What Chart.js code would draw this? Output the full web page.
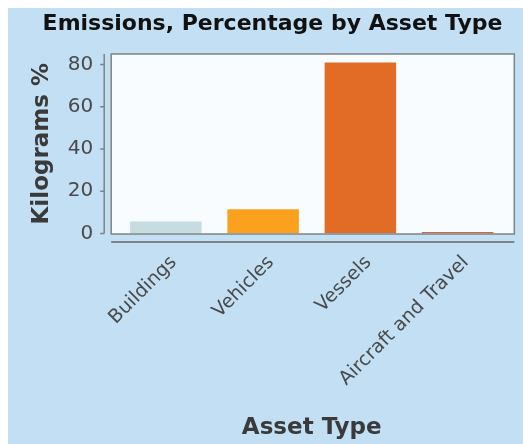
<!DOCTYPE html>
<html><head><meta charset="utf-8">
<script src="https://cdn.jsdelivr.net/npm/chart.js@4.4.1/dist/chart.umd.min.js"></script>
<style>
html,body{margin:0;padding:0;background:#fff;overflow:hidden;}
#wrap{position:absolute;left:8px;top:8px;width:515px;height:436px;background:#C2DFF3;}
</style></head>
<body><div id="wrap"><canvas id="c" width="515" height="436"></canvas></div>
<script>
const categories = ["Buildings", "Vehicles", "Vessels", "Aircraft and Travel"];
const values = [5.7, 11.5, 81.0, 0.7];
const barColors = ["#C5DCE0", "#FBA11E", "#E26C26", "#CF674C"];
const yTicks = [0, 20, 40, 60, 80];
const yMax = 85;

const frame = {
  id: 'frame',
  beforeDatasetsDraw(chart) {
    const {ctx, chartArea: a} = chart;
    ctx.save();
    ctx.fillStyle = '#F8FCFF';
    ctx.fillRect(a.left - 6, a.top, a.right - a.left + 14, a.bottom - a.top + 0.5);
    ctx.restore();
  },
  afterDatasetsDraw(chart) {
    const {ctx, chartArea: a, scales} = chart;
    ctx.save();
    ctx.strokeStyle = '#7F8384';
    ctx.lineWidth = 1.5;
    ctx.strokeRect(a.left - 6, a.top, a.right - a.left + 14, a.bottom - a.top + 0.5);
    const ys = scales.y;
    const ax = a.left - 13;
    ctx.beginPath();
    ctx.moveTo(ax, ys.getPixelForValue(yMax));
    ctx.lineTo(ax, ys.getPixelForValue(0));
    yTicks.forEach(v => { const p = ys.getPixelForValue(v); ctx.moveTo(ax - 4, p); ctx.lineTo(ax, p); });
    ctx.stroke();
    ctx.beginPath();
    ctx.lineWidth = 2;
    const by = a.bottom + 8.5;
    ctx.moveTo(a.left - 6, by);
    ctx.lineTo(a.right + 8, by);
    ctx.stroke();
    ctx.restore();
  }
};

new Chart(document.getElementById('c'), {
  type: 'bar',
  data: {
    labels: categories,
    datasets: [{ data: values, backgroundColor: barColors, borderWidth: 0, barPercentage: 0.735, categoryPercentage: 1 }]
  },
  options: {
    responsive: false,
    animation: false,
    layout: { padding: { left: 30.7, right: 16.7, top: 0, bottom: 0 } },
    plugins: {
      legend: { display: false },
      tooltip: { enabled: false },
      title: {
        display: true,
        text: 'Emissions, Percentage by Asset Type',
        color: '#111',
        font: { family: 'DejaVu Sans', size: 22, weight: 'bold', lineHeight: 1.2 },
        padding: { top: 2.8, bottom: 16.8 }
      }
    },
    scales: {
      x: {
        type: 'category',
        offset: true,
        grid: { display: false, drawTicks: false },
        border: { display: false },
        ticks: { color: '#4A4A4A', font: { family: 'DejaVu Sans', size: 19 }, minRotation: 45, maxRotation: 45, padding: 18, labelOffset: 8, autoSkip: false },
        title: { display: true, text: 'Asset Type', color: '#3A3A3A', font: { family: 'DejaVu Sans', size: 23, weight: 'bold', lineHeight: 1.2 }, padding: { top: 0, bottom: 2.2 } },
        afterFit(s) { s.height = 210.5; }
      },
      y: {
        min: 0, max: yMax,
        grid: { display: false, drawTicks: false },
        border: { display: false },
        ticks: { stepSize: 20, includeBounds: false, color: '#4A4A4A', font: { family: 'DejaVu Sans', size: 20 }, padding: 24 },
        title: { display: true, text: 'Kilograms %', color: '#3A3A3A', font: { family: 'DejaVu Sans', size: 23, weight: 'bold', lineHeight: 0.33 }, padding: { top: 0, bottom: 0 } },
        afterFit(s) { s.width = 78.5; }
      }
    }
  },
  plugins: [frame]
});
</script></body></html>
